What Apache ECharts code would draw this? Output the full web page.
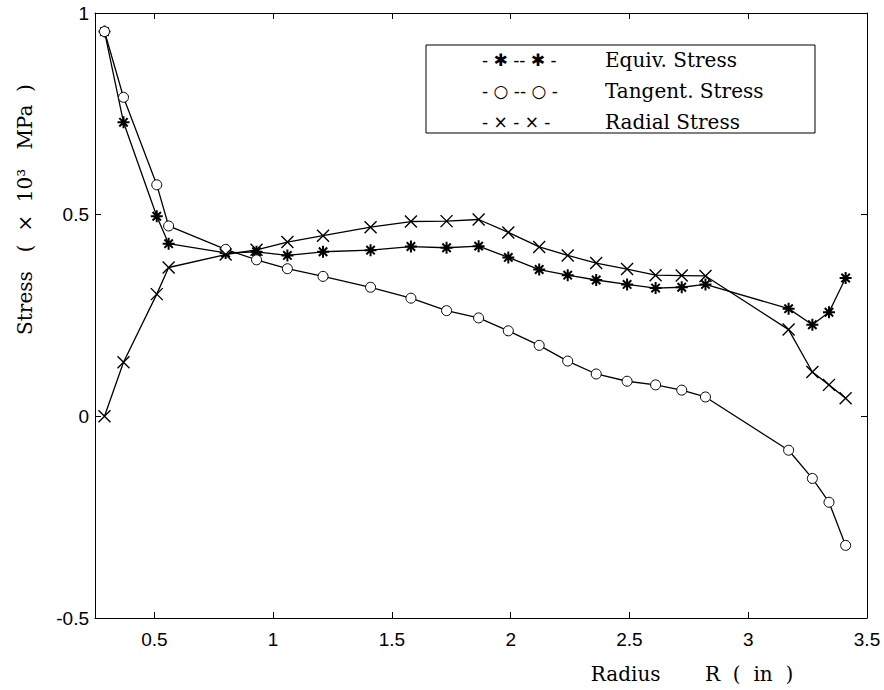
<!DOCTYPE html>
<html>
<head>
<meta charset="utf-8">
<script src="https://cdn.jsdelivr.net/npm/echarts@6/dist/echarts.min.js"></script>
<style>
  html, body { margin: 0; padding: 0; background: #fff; }
  #chart { width: 884px; height: 690px; }
</style>
</head>
<body>
<div id="chart"></div>
<script>
// radius (in) of each node
const radius = [0.29, 0.37, 0.51, 0.56, 0.80, 0.93, 1.06, 1.21, 1.41, 1.58, 1.73, 1.865,
  1.99, 2.12, 2.24, 2.36, 2.49, 2.61, 2.72, 2.82, 3.17, 3.27, 3.34, 3.41]

// stresses (x 10^3 MPa)
const equivStress = [0.954, 0.729, 0.496, 0.428, 0.405, 0.408, 0.399, 0.408, 0.412, 0.421, 0.418, 0.422,
  0.394, 0.364, 0.350, 0.338, 0.327, 0.318, 0.320, 0.327, 0.267, 0.227, 0.258, 0.343]
const tangentStress = [0.954, 0.791, 0.574, 0.472, 0.414, 0.388, 0.366, 0.347, 0.320, 0.293, 0.262, 0.244,
  0.212, 0.176, 0.137, 0.105, 0.087, 0.078, 0.065, 0.048, -0.084, -0.154, -0.213, -0.320]
const radialStress = [0.000, 0.134, 0.303, 0.369, 0.401, 0.413, 0.432, 0.448, 0.469, 0.483, 0.484, 0.488,
  0.456, 0.420, 0.399, 0.380, 0.365, 0.350, 0.349, 0.348, 0.215, 0.110, 0.078, 0.045]

const xTicks = [0.5, 1, 1.5, 2, 2.5, 3, 3.5]
const seriesNames = ['Equiv. Stress', 'Tangent. Stress', 'Radial Stress']
const legendMarks = {
  'Equiv. Stress': '- ✱ -- ✱ -',
  'Tangent. Stress': '- ○ -- ○ -',
  'Radial Stress': '- × - × -'
}

const toPairs = ys => radius.map((r, i) => [r, ys[i]])

const asteriskPath = 'path://M5,0L5,10M0,5L10,5M1.5,1.5L8.5,8.5M8.5,1.5L1.5,8.5'
const crossPath = 'path://M0,0L10,10M10,0L0,10'

const tickFont = { color: '#000', fontFamily: 'Liberation Sans', fontSize: 19 }
const boxLine = { show: true, onZero: false, lineStyle: { color: '#000', width: 1 } }
const inTick = { show: true, inside: true, length: 6, lineStyle: { color: '#000', width: 1 } }

const chart = echarts.init(document.getElementById('chart'), null, { renderer: 'svg' })

const lineBase = {
  type: 'line',
  lineStyle: { color: '#000', width: 1.3 },
  emphasis: { disabled: true },
  z: 3
}

chart.setOption({
  animation: false,
  backgroundColor: '#fff',
  grid: { left: 95, right: 17, top: 13, bottom: 72 },
  legend: {
    data: seriesNames,
    orient: 'vertical',
    left: 426,
    top: 45,
    icon: 'none',
    itemWidth: 0,
    itemHeight: 10,
    itemGap: 11,
    padding: [5, 20, 1, 51],
    borderColor: '#000',
    borderWidth: 1,
    backgroundColor: '#fff',
    selectedMode: false,
    formatter: name => '{m|' + legendMarks[name] + '}{t|' + name + '}',
    textStyle: {
      color: '#000',
      rich: {
        m: { width: 123, fontFamily: 'DejaVu Sans', fontSize: 17, color: '#000', lineHeight: 20 },
        t: { width: 190, fontFamily: 'DejaVu Serif', fontSize: 20, color: '#000', lineHeight: 20 }
      }
    }
  },
  xAxis: [
    {
      type: 'value',
      min: 0.25,
      max: 3.5,
      position: 'bottom',
      name: 'Radius       R  (  in  )',
      nameLocation: 'middle',
      nameGap: 46,
      nameTextStyle: { color: '#000', fontFamily: 'DejaVu Serif', fontSize: 20, padding: [0, 0, 0, 422] },
      axisLine: boxLine,
      axisTick: Object.assign({ customValues: xTicks }, inTick),
      axisLabel: Object.assign({ customValues: xTicks, margin: 12 }, tickFont),
      splitLine: { show: false }
    },
    {
      type: 'value',
      min: 0.25,
      max: 3.5,
      position: 'top',
      axisLine: boxLine,
      axisTick: Object.assign({ customValues: xTicks }, inTick),
      axisLabel: { show: false },
      splitLine: { show: false }
    }
  ],
  yAxis: [
    {
      type: 'value',
      min: -0.5,
      max: 1,
      interval: 0.5,
      position: 'left',
      name: 'Stress   (  ×  10³   MPa  )',
      nameLocation: 'middle',
      nameRotate: 90,
      nameGap: 60,
      nameTextStyle: { color: '#000', fontFamily: 'DejaVu Serif', fontSize: 20, padding: [0, 0, 0, 212] },
      axisLine: boxLine,
      axisTick: inTick,
      axisLabel: Object.assign({ margin: 6 }, tickFont),
      splitLine: { show: false }
    },
    {
      type: 'value',
      min: -0.5,
      max: 1,
      interval: 0.5,
      position: 'right',
      axisLine: boxLine,
      axisTick: inTick,
      axisLabel: { show: false },
      splitLine: { show: false }
    }
  ],
  series: [
    Object.assign({}, lineBase, {
      name: seriesNames[0],
      data: toPairs(equivStress),
      symbol: asteriskPath,
      symbolSize: 12,
      itemStyle: { color: '#000', borderColor: '#000', borderWidth: 2 }
    }),
    Object.assign({}, lineBase, {
      name: seriesNames[1],
      data: toPairs(tangentStress),
      symbol: 'circle',
      symbolSize: 10,
      itemStyle: { color: '#fff', borderColor: '#000', borderWidth: 1 }
    }),
    Object.assign({}, lineBase, {
      name: seriesNames[2],
      data: toPairs(radialStress),
      symbol: crossPath,
      symbolSize: 12,
      itemStyle: { color: '#000', borderColor: '#000', borderWidth: 1.4 }
    })
  ]
})

window.addEventListener('resize', () => chart.resize())
</script>
</body>
</html>
